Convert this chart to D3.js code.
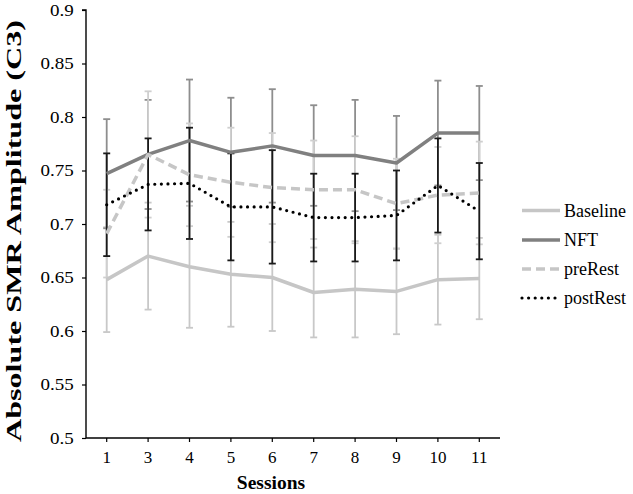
<!DOCTYPE html>
<html>
<head>
<meta charset="utf-8">
<script src="https://cdn.jsdelivr.net/npm/d3@7"></script>
<style>
  html, body { margin: 0; padding: 0; background: #fff; }
  svg { display: block; }
</style>
</head>
<body>
<svg id="chart" width="633" height="494"></svg>
<script>
const sessions = ["1", "3", "4", "5", "6", "7", "8", "9", "10", "11"];
const yTickValues = [0.5, 0.55, 0.6, 0.65, 0.7, 0.75, 0.8, 0.85, 0.9];
const yTickLabels = ["0.5", "0.55", "0.6", "0.65", "0.7", "0.75", "0.8", "0.85", "0.9"];

const baseline   = [0.648, 0.670, 0.660, 0.653, 0.650, 0.636, 0.639, 0.637, 0.648, 0.649];
const baselineSD = [0.049, 0.050, 0.057, 0.049, 0.050, 0.042, 0.045, 0.040, 0.042, 0.038];
const nft        = [0.747, 0.765, 0.778, 0.767, 0.773, 0.764, 0.764, 0.757, 0.785, 0.785];
const nftSD      = [0.051, 0.051, 0.057, 0.051, 0.053, 0.047, 0.052, 0.044, 0.049, 0.044];
const preRest    = [0.691, 0.765, 0.746, 0.739, 0.734, 0.732, 0.732, 0.719, 0.727, 0.729];
const preRestSD  = [0.041, 0.059, 0.048, 0.051, 0.051, 0.046, 0.050, 0.042, 0.045, 0.048];
const postRest   = [0.718, 0.737, 0.738, 0.716, 0.716, 0.706, 0.706, 0.708, 0.736, 0.712];
const postRestSD = [0.048, 0.043, 0.052, 0.050, 0.053, 0.041, 0.041, 0.042, 0.044, 0.045];

const seriesNames = ["Baseline", "NFT", "preRest", "postRest"];

const series = [
  { name: seriesNames[0], values: baseline, sd: baselineSD, color: "#c6c6c6", barColor: "#c8c8c8", width: 3.5, dash: null, cap: "butt" },
  { name: seriesNames[1], values: nft, sd: nftSD, color: "#808080", barColor: "#8e8e8e", width: 3.5, dash: null, cap: "butt" },
  { name: seriesNames[2], values: preRest, sd: preRestSD, color: "#c6c6c6", barColor: "#cfcfcf", width: 3.5, dash: "9,5", cap: "butt" },
  { name: seriesNames[3], values: postRest, sd: postRestSD, color: "#000000", barColor: "#1a1a1a", width: 3.2, dash: "0,6.6", cap: "round" }
];

const FONT = "'Liberation Serif', Tinos, 'Times New Roman', Times, 'DejaVu Serif', serif";

const svg = d3.select("#chart");
const mLeft = 86, mRight = 500, mTop = 10, mBottom = 438;

const x = d3.scaleBand().domain(sessions).range([mLeft, mRight]).padding(0);
const y = d3.scaleLinear().domain([0.5, 0.9]).range([mBottom, mTop]);
const cx = s => x(s) + x.bandwidth() / 2;

// error bars
const capW = 3.5;
series.forEach(s => {
  const g = svg.append("g").attr("class", "err-" + s.name);
  sessions.forEach((ses, i) => {
    const v = s.values[i], e = s.sd[i];
    const xx = cx(ses);
    g.append("line").attr("x1", xx).attr("x2", xx)
      .attr("y1", y(v + e)).attr("y2", y(v - e))
      .attr("stroke", s.barColor).attr("stroke-width", 1.8);
    [v + e, v - e].forEach(t => {
      g.append("line").attr("x1", xx - capW).attr("x2", xx + capW)
        .attr("y1", y(t)).attr("y2", y(t))
        .attr("stroke", s.barColor).attr("stroke-width", 1.8);
    });
  });
});

// lines
const line = d3.line().x((d, i) => cx(sessions[i])).y(d => y(d));
series.forEach(s => {
  svg.append("path").datum(s.values)
    .attr("d", line)
    .attr("fill", "none")
    .attr("stroke", s.color)
    .attr("stroke-width", s.width)
    .attr("stroke-linecap", s.cap)
    .attr("stroke-linejoin", "round")
    .attr("stroke-dasharray", s.dash);
});

// axes
const yAxis = d3.axisLeft(y).tickValues(yTickValues)
  .tickFormat((d, i) => yTickLabels[i]).tickSize(4).tickPadding(7);
const yg = svg.append("g").attr("transform", `translate(${mLeft},0)`).call(yAxis);
yg.attr("font-family", null).attr("font-size", null);
yg.select(".domain").attr("stroke", "#000").attr("stroke-width", 1.4).attr("d", `M-4,${mTop}H0V${mBottom}`);
yg.selectAll(".tick line").attr("stroke", "#000").attr("stroke-width", 1.2);
yg.selectAll(".tick text").style("font-family", FONT).style("font-size", "17px")
  .attr("fill", "#000").attr("transform", "scale(1.12,1)");

const xAxis = d3.axisBottom(x).tickSize(4).tickPadding(9);
const xg = svg.append("g").attr("transform", `translate(0,${mBottom})`).call(xAxis);
xg.attr("font-family", null).attr("font-size", null);
xg.select(".domain").attr("stroke", "#000").attr("stroke-width", 1.4).attr("d", `M${mLeft},0H${mRight}`);
xg.selectAll(".tick line").attr("stroke", "#000").attr("stroke-width", 1.2);
xg.selectAll(".tick text").style("font-family", FONT).style("font-size", "17px").attr("fill", "#000");

// axis titles
svg.append("text").attr("x", 271).attr("y", 489)
  .attr("text-anchor", "middle")
  .style("font-family", FONT).style("font-size", "19.5px").style("font-weight", "bold")
  .text("Sessions");

svg.append("text")
  .attr("transform", "translate(21,231) rotate(-90)")
  .attr("text-anchor", "middle")
  .style("font-family", FONT).style("font-size", "21px").style("font-weight", "bold")
  .attr("textLength", 422).attr("lengthAdjust", "spacingAndGlyphs")
  .text("Absolute SMR Amplitude (C3)");

// legend
const legY = [210.5, 240, 269, 298];
series.forEach((s, i) => {
  const g = svg.append("g").attr("transform", `translate(0,${legY[i]})`);
  g.append("line").attr("x1", 522).attr("x2", 560).attr("y1", 0).attr("y2", 0)
    .attr("stroke", s.color).attr("stroke-width", s.width)
    .attr("stroke-linecap", s.cap).attr("stroke-dasharray", s.dash);
  g.append("text").attr("x", 564).attr("y", 6)
    .style("font-family", FONT).style("font-size", "18px")
    .text(s.name);
});
</script>
</body>
</html>
